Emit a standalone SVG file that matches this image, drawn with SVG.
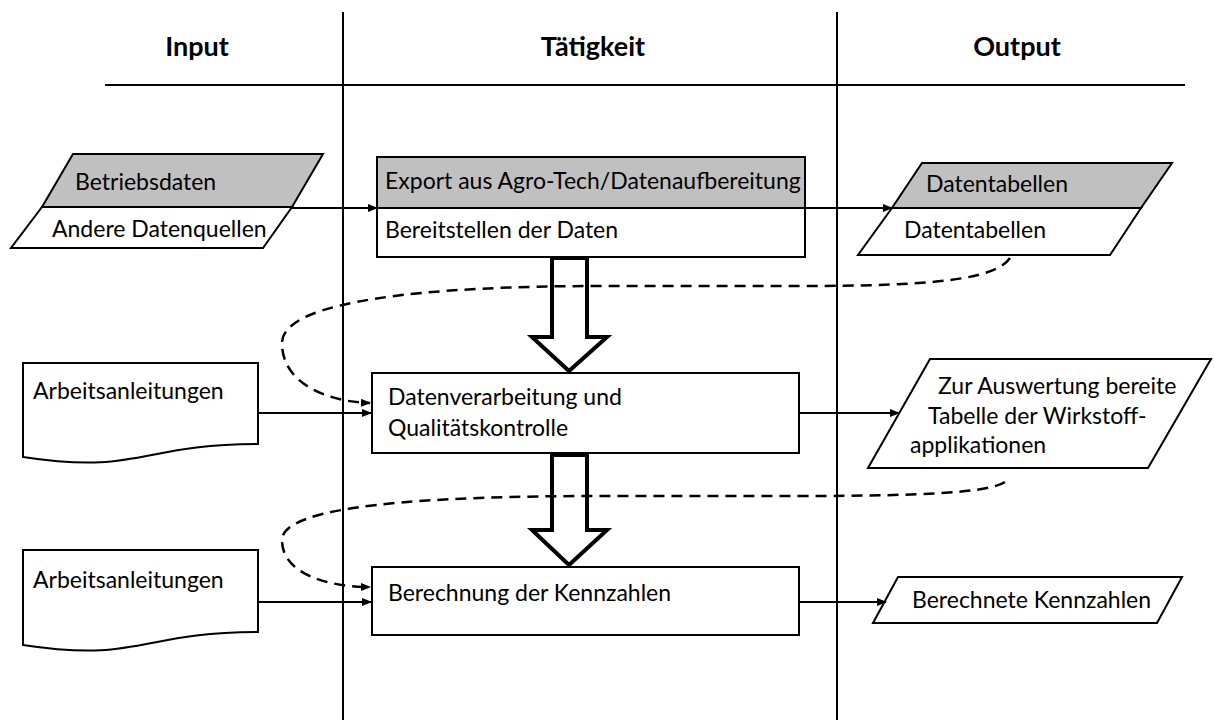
<svg xmlns="http://www.w3.org/2000/svg" width="1214" height="720" viewBox="0 0 1214 720">
<defs>
<marker id="ah" markerWidth="10" markerHeight="8" refX="9" refY="4" orient="auto" markerUnits="userSpaceOnUse">
<path d="M0,0 L10,4 L0,8 Z" fill="#000"/>
</marker>
<style>
.t{font-family:Lato,"Liberation Sans",sans-serif;font-size:23px;fill:#000}
.h{font-family:Lato,"Liberation Sans",sans-serif;font-size:27px;font-weight:bold;fill:#000;text-anchor:middle}
.s{fill:#fff;stroke:#000;stroke-width:2}
.g{fill:#c0c0c0;stroke:#000;stroke-width:2}
.ln{fill:none;stroke:#000;stroke-width:2}
.c{fill:none;stroke:#000;stroke-width:2;marker-end:url(#ah)}
.d{fill:none;stroke:#000;stroke-width:2.5;stroke-dasharray:11,7;marker-end:url(#ah)}
.ba{fill:#fff;stroke:#000;stroke-width:4;stroke-linejoin:miter}
</style>
</defs>
<rect width="1214" height="720" fill="#fff"/>
<g id="frame">
<line class="ln" x1="105" y1="85" x2="1185" y2="85"/>
<line class="ln" x1="343" y1="12" x2="343" y2="720"/>
<line class="ln" x1="837" y1="12" x2="837" y2="720"/>
<text class="h" x="197" y="56">Input</text>
<text class="h" x="593" y="56">Tätigkeit</text>
<text class="h" x="1017" y="56">Output</text>
</g>
<g id="blockarrows">
<path class="ba" d="M552,258 H587 V337 H607 L569,371 L532,337 H552 Z"/>
<path class="ba" d="M552,455 H587 V530 H607 L569,565 L532,530 H552 Z"/>
</g>
<g id="n-betriebsdaten">
<path class="g" d="M73,154 H323 L292,207 H42 Z"/>
<path class="s" d="M42,207 H292 L263,248 H11 Z"/>
<text class="t" x="75" y="190">Betriebsdaten</text>
<text class="t" x="52" y="237">Andere Datenquellen</text>
</g>
<g id="n-export">
<rect class="g" x="377" y="157" width="428" height="51"/>
<rect class="s" x="377" y="208" width="428" height="49"/>
<text class="t" x="385" y="189">Export aus Agro-Tech/Datenaufbereitung</text>
<text class="t" x="385" y="238">Bereitstellen der Daten</text>
</g>
<g id="n-datentabellen">
<path class="g" d="M922,163 H1172 L1141,208 H892 Z"/>
<path class="s" d="M892,208 H1141 L1110,255 H858 Z"/>
<text class="t" x="926" y="192">Datentabellen</text>
<text class="t" x="904" y="238">Datentabellen</text>
</g>
<g id="n-arbeit1">
<path class="s" d="M23,363 H258 V444 C140.5,444 140.5,475 23,457 Z"/>
<text class="t" x="33" y="399">Arbeitsanleitungen</text>
</g>
<g id="n-datenverarbeitung">
<rect class="s" x="372" y="373" width="427" height="80"/>
<text class="t" x="388" y="405">Datenverarbeitung und</text>
<text class="t" x="388" y="436">Qualitätskontrolle</text>
</g>
<g id="n-auswertung">
<path class="s" d="M930,359 H1211 L1148,468 H868 Z"/>
<text class="t" x="938" y="394">Zur Auswertung bereite</text>
<text class="t" x="928" y="424">Tabelle der Wirkstoff-</text>
<text class="t" x="910" y="453">applikationen</text>
</g>
<g id="n-arbeit2">
<path class="s" d="M23,550 H258 V632 C140.5,632 140.5,663 23,645 Z"/>
<text class="t" x="33" y="588">Arbeitsanleitungen</text>
</g>
<g id="n-berechnung">
<rect class="s" x="372" y="567" width="427" height="68"/>
<text class="t" x="388" y="601">Berechnung der Kennzahlen</text>
</g>
<g id="n-kennzahlen">
<path class="s" d="M898,577 H1182 L1157,623 H873 Z"/>
<text class="t" x="912" y="608">Berechnete Kennzahlen</text>
</g>
<g id="connectors">
<line class="c" x1="292" y1="208" x2="377" y2="208"/>
<line class="c" x1="805" y1="208" x2="892" y2="208"/>
<line class="c" x1="258" y1="413" x2="371" y2="413"/>
<line class="c" x1="799" y1="413" x2="899" y2="413"/>
<line class="c" x1="258" y1="602" x2="371" y2="602"/>
<line class="c" x1="799" y1="602" x2="886" y2="602"/>
<path class="d" d="M1010,258 C995,280 930,286 800,286 L600,286 C430,286 282,300 282,343 C282,385 330,402 370,403"/>
<path class="d" d="M1005,482 C990,492 930,496 800,496 L600,496 C430,496 282,505 282,540 C282,575 330,587 370,587"/>
</g>
</svg>
